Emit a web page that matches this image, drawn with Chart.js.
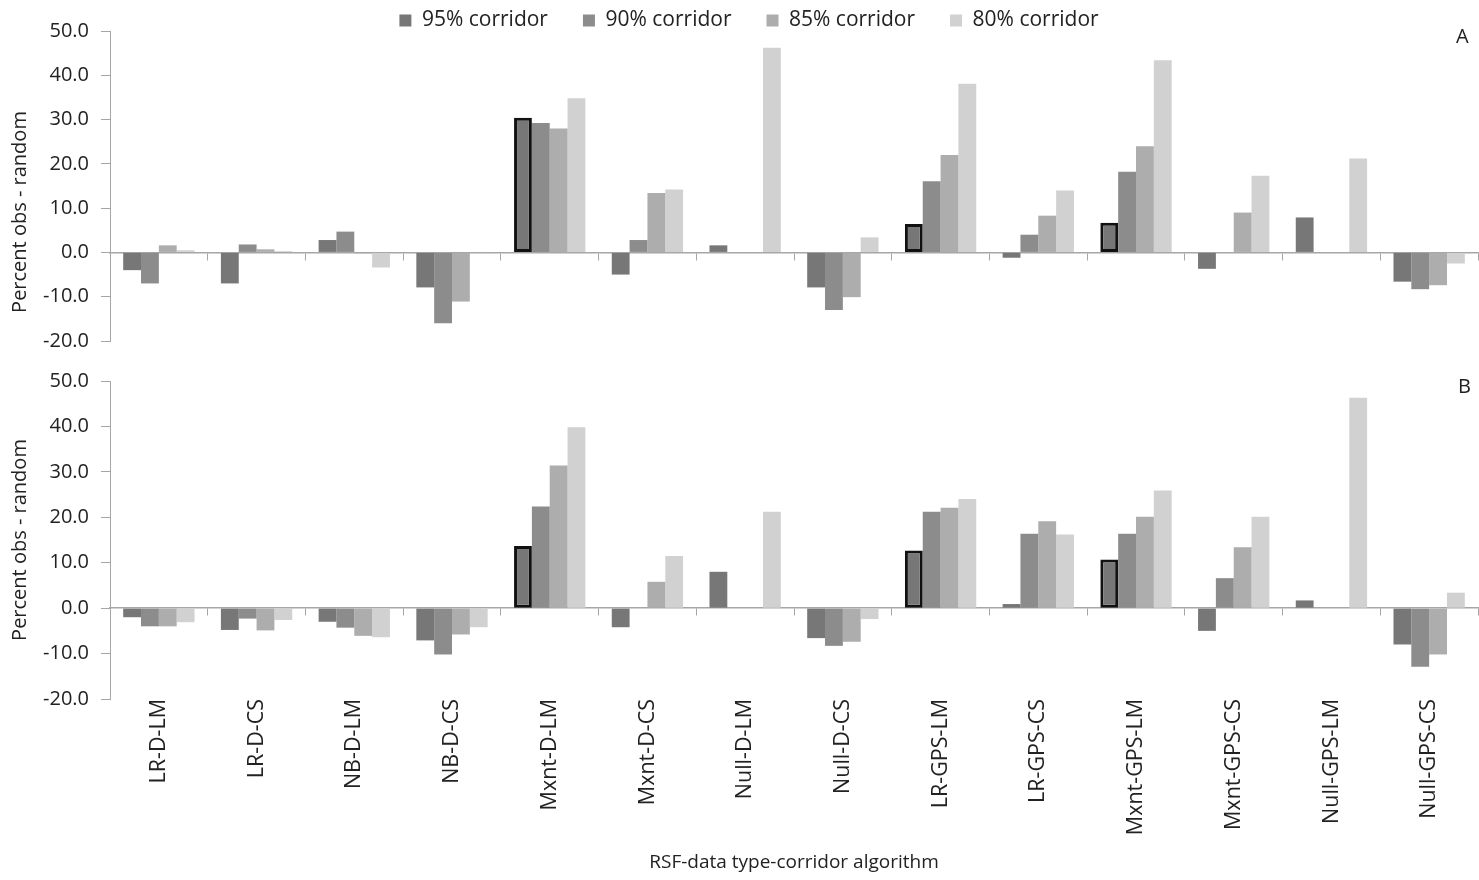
<!DOCTYPE html>
<html><head><meta charset="utf-8">
<script src="https://cdn.jsdelivr.net/npm/chart.js@4.4.0/dist/chart.umd.min.js"></script>
<style>
html,body{margin:0;padding:0;background:#fff;width:1479px;height:880px;overflow:hidden;position:relative;}
#wa{position:absolute;left:0;top:-25px;width:1479px;height:397px}
#wb{position:absolute;left:0;top:355px;width:1479px;height:525px}
.tag{position:absolute;font-family:"Open Sans";font-size:20px;color:#222}
</style></head><body>
<div id="wa"><canvas id="ca"></canvas></div>
<div id="wb"><canvas id="cb"></canvas></div>
<div class="tag" style="left:1456px;top:22px">A</div>
<div class="tag" style="left:1458px;top:372px">B</div>
<script>
const categories = ['LR-D-LM','LR-D-CS','NB-D-LM','NB-D-CS','Mxnt-D-LM','Mxnt-D-CS','Null-D-LM','Null-D-CS','LR-GPS-LM','LR-GPS-CS','Mxnt-GPS-LM','Mxnt-GPS-CS','Null-GPS-LM','Null-GPS-CS'];
const seriesNames = ['95% corridor','90% corridor','85% corridor','80% corridor'];
const seriesColors = ['#777777','#8c8c8c','#adadad','#d1d1d1'];
const highlighted = ['Mxnt-D-LM','LR-GPS-LM','Mxnt-GPS-LM'];

const panelA95 = [-4.0, -7.0, 2.8, -7.9, 30.4, -5.0, 1.6, -7.9, 6.4, -1.2, 6.7, -3.7, 7.9, -6.6];
const panelA90 = [-7.0, 1.8, 4.7, -16.0, 29.2, 2.8, 0, -13.0, 16.1, 4.0, 18.2, 0, 0, -8.3];
const panelA85 = [1.6, 0.7, -0.2, -11.1, 28.0, 13.4, 0, -10.1, 22.0, 8.3, 24.0, 9.0, 0, -7.4];
const panelA80 = [0.5, 0.3, -3.4, -0.3, 34.8, 14.2, 46.2, 3.4, 38.1, 14.0, 43.4, 17.3, 21.2, -2.5];

const panelB95 = [-2.0, -4.8, -3.0, -7.1, 13.7, -4.2, 8.0, -6.6, 12.7, 0.9, 10.7, -5.0, 1.7, -8.0];
const panelB90 = [-4.0, -2.3, -4.3, -10.2, 22.4, 0, 0, -8.3, 21.2, 16.4, 16.4, 6.6, 0, -12.9];
const panelB85 = [-4.0, -4.9, -6.1, -5.8, 31.4, 5.8, 0, -7.4, 22.1, 19.1, 20.1, 13.4, 0, -10.2];
const panelB80 = [-3.1, -2.6, -6.4, -4.2, 39.8, 11.5, 21.2, -2.4, 24.0, 16.2, 25.9, 20.1, 46.3, 3.4];

const yMin = -20, yMax = 50, yStep = 10;
const yTitle = 'Percent obs - random';
const xTitle = 'RSF-data type-corridor algorithm';

const FONT = '"Open Sans", "Noto Sans", sans-serif';
const TEXT = '#222222';
const AXIS = '#a6a6a6';

function makeDatasets(arrs){
  return arrs.map((vals, i) => ({
    label: seriesNames[i],
    data: vals,
    backgroundColor: seriesColors[i],
    borderColor: '#111111',
    borderWidth: categories.map(c => (i === 0 && highlighted.includes(c)) ? 3 : 0),
    borderSkipped: false,
    categoryPercentage: 0.73,
    barPercentage: 1.0
  }));
}

function makeOptions(isTop){
  return {
    responsive: true,
    maintainAspectRatio: false,
    animation: false,
    devicePixelRatio: 1,
    layout: { padding: isTop ? {top:0, bottom:31, left:0, right:1} : {top:26, bottom:0, left:0, right:1} },
    plugins: {
      tooltip: {enabled:false},
      legend: {
        display: isTop,
        position: 'top',
        labels: {
          boxWidth: 12, boxHeight: 12, padding: 35,
          color: TEXT,
          font: {family: FONT, size: 21}
        }
      }
    },
    scales: {
      x: {
        type: 'category',
        display: !isTop,
        grid: {display:false, drawTicks:false},
        border: {display:false},
        ticks: {
          display: true, minRotation: 90, maxRotation: 90, padding: 0, autoSkip: false,
          color: TEXT, font: {family: FONT, size: 21.5}
        },
        title: {
          display: !isTop, text: xTitle, color: TEXT,
          font: {family: FONT, size: 19}, padding: {top: 0, bottom: 6}
        },
        afterFit(scale){ if (!isTop) scale.height = 181; }
      },
      x2: {
        type: 'category',
        position: {y: 0},
        grid: {offset: true, drawOnChartArea: false, drawTicks: true, tickLength: 7, color: AXIS, lineWidth: 1},
        border: {display: true, color: AXIS, width: 1.5},
        ticks: {display: false}
      },
      y: {
        min: yMin, max: yMax,
        ticks: {
          stepSize: yStep, color: TEXT, padding: 12,
          font: {family: FONT, size: 20},
          callback: v => Number(v).toFixed(1)
        },
        grid: {drawOnChartArea: false, drawTicks: true, tickLength: 9, color: AXIS},
        border: {display: true, color: AXIS, width: 1},
        title: {
          display: true, text: yTitle, color: TEXT,
          font: {family: FONT, size: 20}, padding: {top: 8, bottom: 0}
        },
        afterFit(scale){ scale.width = 110; }
      }
    }
  };
}

// Panel A: fixed legend box height, legend nudged right, y-title nudged down (as in the original)
const panelATweaks = {
  id: 'panelATweaks',
  beforeInit(chart){
    if (!chart.legend) return;
    const lg = chart.legend;
    const fit = lg.fit;
    lg.fit = function(){ fit.call(this); this.height = 56; };
    const draw = lg.draw;
    lg.draw = function(){ const c = this.ctx; c.save(); c.translate(10, 0); draw.call(this); c.restore(); };
  },
  beforeDraw(chart){
    const ys = chart.scales.y;
    if (ys && !ys._titleShifted){
      const dt = ys.drawTitle;
      ys.drawTitle = function(){ const c = this.ctx; c.save(); c.translate(0, 26); dt.call(this); c.restore(); };
      ys._titleShifted = true;
    }
  }
};

new Chart(document.getElementById('ca'), {
  type: 'bar',
  data: { labels: categories, datasets: makeDatasets([panelA95, panelA90, panelA85, panelA80]) },
  options: makeOptions(true),
  plugins: [panelATweaks]
});

new Chart(document.getElementById('cb'), {
  type: 'bar',
  data: { labels: categories, datasets: makeDatasets([panelB95, panelB90, panelB85, panelB80]) },
  options: makeOptions(false)
});
</script>
</body></html>
